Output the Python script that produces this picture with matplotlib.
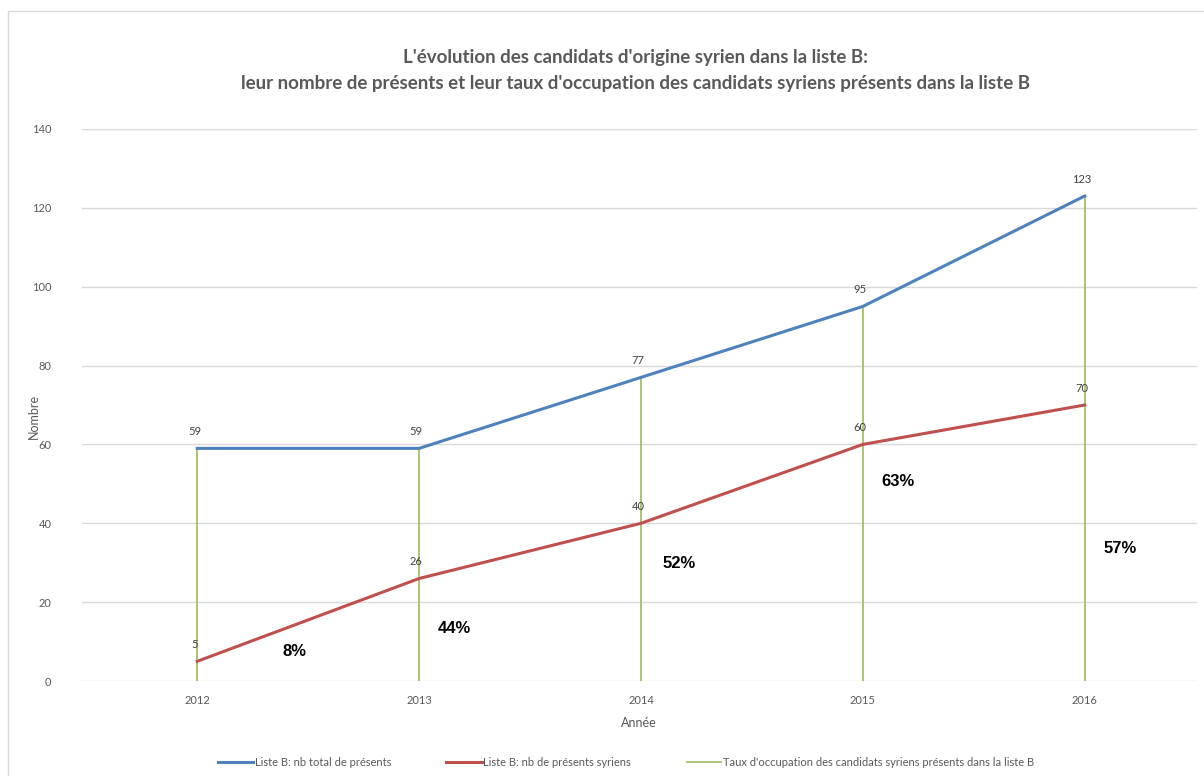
import matplotlib
matplotlib.use("Agg")
import matplotlib.pyplot as plt
from matplotlib.patches import Rectangle

# data
years = [2012, 2013, 2014, 2015, 2016]
total_presents = [59, 59, 77, 95, 123]
syriens_presents = [5, 26, 40, 60, 70]
taux_labels = ["8%", "44%", "52%", "63%", "57%"]
# where the percent boxes sit (data coords)
taux_x = [2012.44, 2013.16, 2014.17, 2015.16, 2016.16]
taux_y = [7.6, 13.2, 29.9, 50.5, 33.7]

BLUE = "#4F81BD"
RED = "#C0504D"
GREEN = "#9BBB59"
GREY = "#595959"

plt.rcParams['font.family'] = ['Lato', 'DejaVu Sans']

fig = plt.figure(figsize=(12.04, 7.76), dpi=100)
ax = fig.add_axes([0.068, 0.1224, 0.926, 0.7114])

# light frame around the chart area
fig.patches.append(Rectangle((8 / 1204, -0.05), 1.1, (776 - 11) / 776 + 0.05,
                             transform=fig.transFigure, fill=False,
                             edgecolor="#d9d9d9", linewidth=1))

ax.vlines(years, 0, total_presents, color=GREEN, linewidth=1.2,
          label="Taux d'occupation des candidats syriens présents dans la liste B", zorder=2)
ax.plot(years, total_presents, color=BLUE, linewidth=2.2,
        label="Liste B: nb total de présents", zorder=3)
ax.plot(years, syriens_presents, color=RED, linewidth=2.2,
        label="Liste B: nb de présents syriens", zorder=3)

for x, y in zip(years, total_presents):
    ax.annotate(str(y), (x, y), xytext=(-2, 8), textcoords="offset points",
                ha="center", va="bottom", fontsize=8, color="#404040")
for x, y in zip(years, syriens_presents):
    ax.annotate(str(y), (x, y), xytext=(-2, 8), textcoords="offset points",
                ha="center", va="bottom", fontsize=8, color="#404040")

for x, y, t in zip(taux_x, taux_y, taux_labels):
    ax.text(x, y, t, ha="center", va="center", fontsize=12, fontweight="bold",
            family=["Liberation Sans", "DejaVu Sans"], color="black")

ax.set_xlim(2011.48, 2016.505)
ax.set_ylim(0, 140)
ax.set_xticks(years)
ax.set_xticklabels([str(y) for y in years])
ax.set_yticks(range(0, 141, 20))
ax.tick_params(axis="both", length=0, labelsize=8, labelcolor=GREY)
ax.tick_params(axis="x", pad=10)
ax.tick_params(axis="y", pad=22)
ax.yaxis.grid(True, color="#d9d9d9", linewidth=1)
ax.set_axisbelow(True)
for s in ax.spines.values():
    s.set_visible(False)

ax.set_xlabel("Année", fontsize=9, color=GREY, labelpad=8)
ax.set_ylabel("Nombre", fontsize=9, color=GREY)
ax.yaxis.set_label_coords(-0.038, 0.48)

fig.text(0.528, 0.926, "L'évolution des candidats d'origine syrien dans la liste B:",
         ha="center", va="center", fontsize=13.5, fontweight="bold", color=GREY)
fig.text(0.528, 0.893, "leur nombre de présents et leur taux d'occupation des candidats syriens présents dans la liste B",
         ha="center", va="center", fontsize=13.5, fontweight="bold", color=GREY)

handles, labels = ax.get_legend_handles_labels()
order = [1, 2, 0]
fig.legend([handles[i] for i in order], [labels[i] for i in order],
           loc="center", bbox_to_anchor=(0.52, 0.018), ncol=3, frameon=False,
           fontsize=8, handlelength=3.2, handletextpad=0.1, columnspacing=5,
           labelcolor=GREY)

fig.savefig("out.png", dpi=100, facecolor="white")
